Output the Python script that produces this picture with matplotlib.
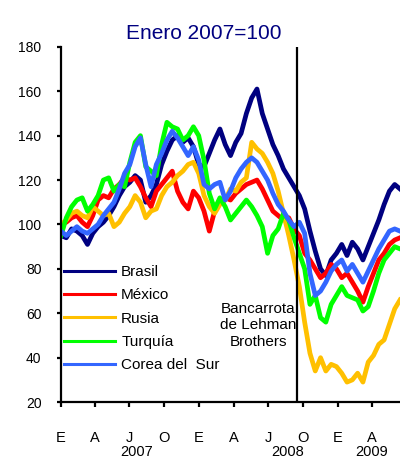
import pandas as pd
import matplotlib
matplotlib.use('Agg')
from matplotlib import pyplot as plt
import matplotlib.transforms as mtransforms

plt.rcParams['font.family'] = ['Liberation Sans', 'DejaVu Sans']

# Bolsas emergentes, indice Enero 2007 = 100 (valores quincenales)
fechas = pd.date_range('2007-01-01', periods=65, freq='14D')

brasil = [95, 94, 98, 97, 95, 91, 96, 99, 101, 104, 108, 113, 117, 119, 122, 120,
          110, 113, 118, 127, 133, 138, 140, 137, 139, 135, 127, 126, 132, 138, 143,
          136, 131, 137, 141, 150, 157, 161, 150, 143, 136, 131, 125, 121, 117, 113,
          107, 97, 88, 80, 77, 84, 87, 91, 86, 92, 89, 84, 90, 96, 102, 109, 115, 118, 116]
mexico = [100, 101, 103, 104, 101, 99, 104, 111, 113, 112, 116, 118, 121, 120, 121, 117,
          112, 108, 115, 118, 121, 124, 115, 110, 107, 115, 112, 106, 97, 106, 110,
          112, 111, 114, 116, 118, 119, 120, 116, 111, 106, 104, 102, 103, 98, 95,
          87, 84, 80, 76, 78, 82, 80, 76, 78, 74, 70, 65, 72, 78, 84, 87, 91, 93, 94]
rusia = [100, 102, 105, 106, 104, 103, 108, 106, 104, 105, 99, 101, 105, 108, 113, 110,
         103, 106, 107, 113, 117, 119, 122, 124, 127, 128, 123, 113, 108, 105, 109,
         111, 116, 115, 119, 121, 137, 134, 132, 128, 123, 115, 105, 95, 84, 72,
         56, 42, 34, 40, 34, 37, 36, 33, 29, 30, 33, 29, 38, 41, 46, 48, 55, 62, 66]
turquia = [95, 103, 108, 111, 112, 106, 109, 113, 120, 121, 115, 118, 117, 128, 137, 140,
           126, 124, 122, 136, 146, 144, 143, 138, 140, 144, 140, 129, 114, 107, 112,
           108, 102, 105, 108, 111, 108, 104, 99, 87, 95, 98, 105, 102, 94, 87,
           80, 64, 68, 58, 56, 64, 68, 72, 68, 67, 66, 61, 63, 70, 78, 84, 87, 90, 89]
corea = [97, 95, 97, 99, 97, 96, 98, 100, 104, 107, 110, 116, 123, 127, 135, 139,
         127, 117, 127, 132, 138, 142, 139, 135, 131, 135, 129, 118, 116, 118, 119,
         111, 115, 121, 125, 128, 130, 128, 124, 120, 114, 109, 106, 102, 99, 101,
         96, 78, 68, 70, 74, 79, 82, 84, 79, 82, 78, 74, 79, 84, 89, 93, 97, 98, 97]

nombres = ['Brasil', 'México', 'Rusia', 'Turquía', 'Corea del  Sur']
series = [brasil, mexico, rusia, turquia, corea]
colores = ['#000080', '#FF0000', '#FFC000', '#00FF00', '#3366FF']

meses = ['E', 'A', 'J', 'O', 'E', 'A', 'J', 'O', 'E', 'A']
anios = ['2007', '2008', '2009']
pos_anios = ['2007-07-19', '2008-08-21', '2009-04-02']
lehman = pd.Timestamp('2008-09-15')

fig = plt.figure(figsize=(4.0, 4.59), dpi=100)
ax = fig.add_axes([0.1525, 0.124, 0.8475, 0.774])

for nombre, serie, color in zip(nombres, series, colores):
    ax.plot(fechas, serie, color=color, lw=3.4, label=nombre)

ax.axvline(lehman, color='black', lw=1.6)
ax.text(pd.Timestamp('2008-06-05'), 54.5, 'Bancarrota\nde Lehman\nBrothers',
        ha='center', va='center', fontsize=11, linespacing=1.2)

ax.set_ylim(20, 180)
ax.set_xlim(pd.Timestamp('2007-01-01'), pd.Timestamp('2009-06-15'))
ax.set_yticks(range(20, 181, 20))
ax.set_xticks(pd.date_range('2007-01-01', '2009-04-01', freq='QS'))
ax.set_xticklabels(meses)

for s in ['top', 'right']:
    ax.spines[s].set_visible(False)
for s in ['left', 'bottom']:
    ax.spines[s].set_linewidth(1.6)
ax.tick_params(axis='y', length=3, width=1.6, pad=11, labelsize=10)
ax.tick_params(axis='x', length=3.5, width=1.6, pad=17, labelsize=10.5)

trans = mtransforms.blended_transform_factory(ax.transData, ax.transAxes)
for anio, pos in zip(anios, pos_anios):
    ax.text(pd.Timestamp(pos), -0.141, anio, transform=trans,
            ha='center', va='center', fontsize=10.5)

leg = ax.legend(loc='upper left', bbox_to_anchor=(0.009, 0.386), frameon=False,
                fontsize=11, handlelength=3.34, handletextpad=0.4,
                labelspacing=0.61, borderpad=0, borderaxespad=0)
for ln in leg.get_lines():
    ln.set_linewidth(2.2)

fig.suptitle('Enero 2007=100', x=0.51, y=0.948, color='#000080', fontsize=15)

fig.savefig('out.png', dpi=100)
